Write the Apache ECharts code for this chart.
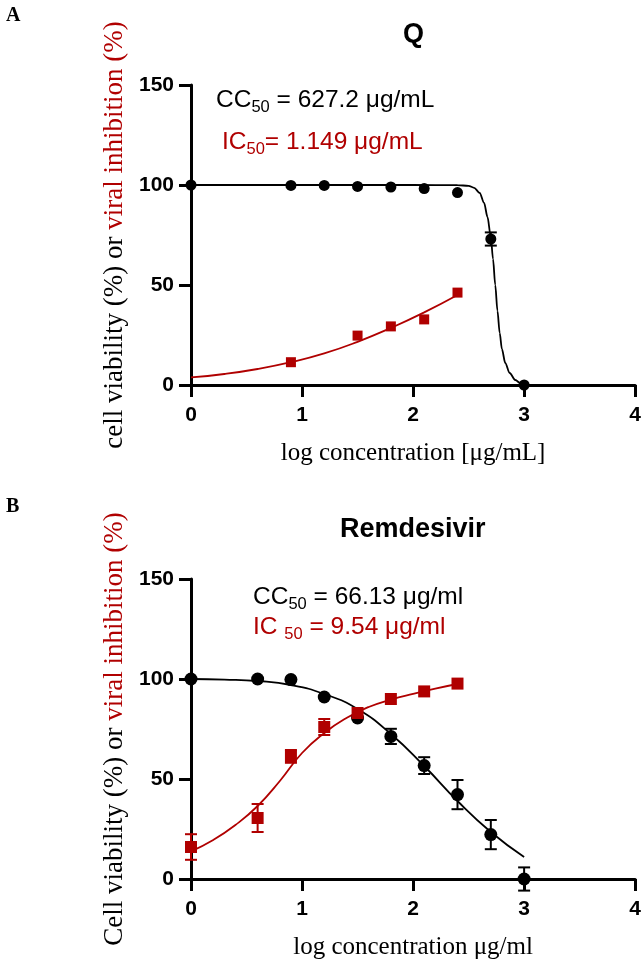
<!DOCTYPE html>
<html lang="en">

<head>
    <meta charset="UTF-8">
    <title>Q / Remdesivir dose response</title>
    <script src="https://cdn.jsdelivr.net/npm/echarts@6/dist/echarts.min.js"></script>
    <style>
        body {
            margin: 0;
            padding: 0;
            background: #fff;
        }
    </style>
</head>

<body>
    <div id="chart" style="width: 644px;height: 962px;"></div>
    <script>
        // ---- data ----
        // panel A (Q)
        var xLogA = [0, 0.9, 1.2, 1.5, 1.8, 2.1, 2.4, 2.7, 3.0];
        var viabilityA = [100, 99.8, 99.8, 99.3, 99, 98.2, 96.2, 73, 0];
        var viabilityErrA = [0, 0, 0, 0, 0, 0, 0, 3.3, 0];
        var inhibXA = [0.9, 1.5, 1.8, 2.1, 2.4];
        var inhibitionA = [11.4, 24.7, 29.3, 32.8, 46.2];
        // fitted curves, traced
        var fitXA_cc = [0, 0.5, 1, 1.5, 2, 2.4, 2.5, 2.55, 2.6, 2.64, 2.67, 2.7, 2.72, 2.74, 2.76, 2.78, 2.8, 2.83, 2.87, 2.92, 2.97, 3.0];
        var fitA_cc = [100, 100, 100, 100, 100, 99.9, 99.6, 98.6, 96, 91, 84, 74, 63, 50, 37, 26, 18, 11, 6, 2.5, 0.8, 0.3];
        var fitXA_ic = [0, 0.3, 0.6, 0.9, 1.2, 1.5, 1.8, 2.1, 2.4];
        var fitA_ic = [3.8, 5.5, 8, 11.4, 15.8, 21.6, 28.5, 36.3, 45];

        // panel B (Remdesivir)
        var xLogB = [0, 0.6, 0.9, 1.2, 1.5, 1.8, 2.1, 2.4, 2.7, 3.0];
        var viabilityB = [100, 100, 99.7, 91, 80.5, 71.3, 56.7, 42.2, 22.2, 0];
        var viabilityErrB = [0, 0, 0, 0, 0, 3.8, 4.2, 7.3, 7.3, 5.8];
        var inhibXB = [0, 0.6, 0.9, 1.2, 1.5, 1.8, 2.1, 2.4];
        var inhibitionB = [16, 30.5, 61.3, 76, 83, 90, 93.8, 97.7];
        var inhibitionErrB = [6.4, 7, 3.2, 4, 0, 0, 0, 0];
        var fitXB_cc = [0, 0.3, 0.6, 0.9, 1.2, 1.5, 1.8, 2.1, 2.4, 2.7, 3.0];
        var fitB_cc = [100, 99.7, 99, 97, 92.5, 85, 72.5, 56.5, 39, 23.5, 11];
        var fitXB_ic = [0, 0.2, 0.4, 0.6, 0.8, 1.0, 1.2, 1.4, 1.6, 1.8, 2.0, 2.2, 2.4];
        var fitB_ic = [13.8, 19.5, 27, 36.5, 49, 63, 73, 80.5, 86, 89.7, 92.6, 95.2, 97.5];

        var xTicks = [0, 1, 2, 3, 4];
        var yTicks = [0, 50, 100, 150];

        var RED = '#b00000';
        var sans = '"Liberation Sans", Arial, sans-serif';
        var serif = '"Liberation Serif", "Times New Roman", serif';

        function pairs(xs, ys) {
            return xs.map(function (x, i) { return [x, ys[i]]; });
        }
        function errPairs(xs, ys, es) {
            var out = [];
            xs.forEach(function (x, i) {
                if (es[i] > 0) out.push([x, ys[i] - es[i], ys[i] + es[i]]);
            });
            return out;
        }

        function errRender(params, api) {
            var lo = api.coord([api.value(0), api.value(1)]);
            var hi = api.coord([api.value(0), api.value(2)]);
            var c = api.visual('color');
            var w = 6;
            var st = { stroke: c, lineWidth: 2 };
            return {
                type: 'group',
                children: [
                    { type: 'line', shape: { x1: lo[0], y1: lo[1], x2: hi[0], y2: hi[1] }, style: st },
                    { type: 'line', shape: { x1: lo[0] - w, y1: lo[1], x2: lo[0] + w, y2: lo[1] }, style: st },
                    { type: 'line', shape: { x1: hi[0] - w, y1: hi[1], x2: hi[0] + w, y2: hi[1] }, style: st }
                ]
            };
        }

        function xAxisCfg(idx, name) {
            return {
                gridIndex: idx,
                type: 'value',
                min: xTicks[0],
                max: xTicks[xTicks.length - 1],
                interval: 1,
                axisLine: { show: true, lineStyle: { color: '#000', width: 3 } },
                axisTick: { show: true, length: 12, lineStyle: { color: '#000', width: 3 } },
                axisLabel: { color: '#000', fontFamily: sans, fontWeight: 'bold', fontSize: 21, margin: 20 },
                splitLine: { show: false },
                name: name,
                nameLocation: 'middle',
                nameGap: 56,
                nameTextStyle: { color: '#000', fontFamily: serif, fontSize: 25 }
            };
        }
        function yAxisCfg(idx, first) {
            return {
                gridIndex: idx,
                type: 'value',
                min: yTicks[0],
                max: yTicks[yTicks.length - 1],
                interval: 50,
                axisLine: { show: true, lineStyle: { color: '#000', width: 3 } },
                axisTick: { show: true, length: 12, lineStyle: { color: '#000', width: 3 } },
                axisLabel: { color: '#000', fontFamily: sans, fontWeight: 'bold', fontSize: 21, margin: 17 },
                splitLine: { show: false },
                name: '{k|' + first + ' (%) or }{r|viral inhibition (%)}',
                nameLocation: 'middle',
                nameGap: 60,
                nameTextStyle: {
                    fontFamily: serif, fontSize: 27,
                    rich: {
                        k: { color: '#000', fontFamily: serif, fontSize: 27 },
                        r: { color: RED, fontFamily: serif, fontSize: 27 }
                    }
                }
            };
        }

        function subText(left, top, color, pre, sub, post) {
            return {
                type: 'text',
                left: left,
                top: top,
                style: {
                    text: '{n|' + pre + '}{s|' + sub + '}{n|' + post + '}',
                    fill: color,
                    rich: {
                        n: { fill: color, fontFamily: sans, fontSize: 24.5, lineHeight: 30 },
                        s: { fill: color, fontFamily: sans, fontSize: 16.5, lineHeight: 16, verticalAlign: 'bottom' }
                    }
                }
            };
        }

        var scatterStyle = function (c) {
            return { color: c, opacity: 1 };
        };

        var chart = echarts.init(document.getElementById('chart'));
        var option = {
            backgroundColor: '#fff',
            animation: false,
            grid: [
                { left: 191, top: 85, width: 445, height: 300 },
                { left: 191, top: 579, width: 445, height: 300 }
            ],
            xAxis: [
                xAxisCfg(0, 'log concentration [μg/mL]'),
                xAxisCfg(1, 'log concentration μg/ml')
            ],
            yAxis: [
                yAxisCfg(0, 'cell viability'),
                yAxisCfg(1, 'Cell viability')
            ],
            graphic: [
                { type: 'text', left: 6, top: 6, style: { text: 'A', fill: '#000', font: 'bold 20px ' + serif } },
                { type: 'text', left: 6, top: 497, style: { text: 'B', fill: '#000', font: 'bold 20px ' + serif } },
                { type: 'text', left: 403, top: 21, style: { text: 'Q', fill: '#000', font: 'bold 27px ' + sans } },
                { type: 'text', left: 340, top: 516, style: { text: 'Remdesivir', fill: '#000', font: 'bold 27px ' + sans } },
                subText(216, 88, '#000', 'CC', '50', ' = 627.2 μg/mL'),
                subText(222, 130, RED, 'IC', '50', '= 1.149 μg/mL'),
                subText(253, 585, '#000', 'CC', '50', ' = 66.13 μg/ml'),
                subText(253, 615, RED, 'IC ', '50', ' = 9.54 μg/ml')
            ],
            series: [
                // panel A
                { type: 'line', xAxisIndex: 0, yAxisIndex: 0, data: pairs(fitXA_cc, fitA_cc), smooth: 0.3, smoothMonotone: 'x', showSymbol: false, clip: false, lineStyle: { color: '#000', width: 1.8 }, z: 3 },
                { type: 'line', xAxisIndex: 0, yAxisIndex: 0, data: pairs(fitXA_ic, fitA_ic), smooth: 0.5, showSymbol: false, clip: false, lineStyle: { color: RED, width: 1.8 }, z: 3 },
                { type: 'custom', xAxisIndex: 0, yAxisIndex: 0, renderItem: errRender, data: errPairs(xLogA, viabilityA, viabilityErrA), itemStyle: { color: '#000' }, clip: false, z: 4 },
                { type: 'scatter', xAxisIndex: 0, yAxisIndex: 0, data: pairs(xLogA, viabilityA), symbol: 'circle', symbolSize: 11, itemStyle: scatterStyle('#000'), clip: false, z: 5 },
                { type: 'scatter', xAxisIndex: 0, yAxisIndex: 0, data: pairs(inhibXA, inhibitionA), symbol: 'rect', symbolSize: 10, itemStyle: scatterStyle(RED), clip: false, z: 5 },
                // panel B
                { type: 'line', xAxisIndex: 1, yAxisIndex: 1, data: pairs(fitXB_cc, fitB_cc), smooth: 0.5, showSymbol: false, clip: false, lineStyle: { color: '#000', width: 1.8 }, z: 3 },
                { type: 'line', xAxisIndex: 1, yAxisIndex: 1, data: pairs(fitXB_ic, fitB_ic), smooth: 0.5, showSymbol: false, clip: false, lineStyle: { color: RED, width: 1.8 }, z: 3 },
                { type: 'custom', xAxisIndex: 1, yAxisIndex: 1, renderItem: errRender, data: errPairs(xLogB, viabilityB, viabilityErrB), itemStyle: { color: '#000' }, clip: false, z: 4 },
                { type: 'custom', xAxisIndex: 1, yAxisIndex: 1, renderItem: errRender, data: errPairs(inhibXB, inhibitionB, inhibitionErrB), itemStyle: { color: RED }, clip: false, z: 4 },
                { type: 'scatter', xAxisIndex: 1, yAxisIndex: 1, data: pairs(xLogB, viabilityB), symbol: 'circle', symbolSize: 13, itemStyle: scatterStyle('#000'), clip: false, z: 5 },
                { type: 'scatter', xAxisIndex: 1, yAxisIndex: 1, data: pairs(inhibXB, inhibitionB), symbol: 'rect', symbolSize: 12, itemStyle: scatterStyle(RED), clip: false, z: 5 }
            ]
        };
        chart.setOption(option);
    </script>
</body>

</html>
